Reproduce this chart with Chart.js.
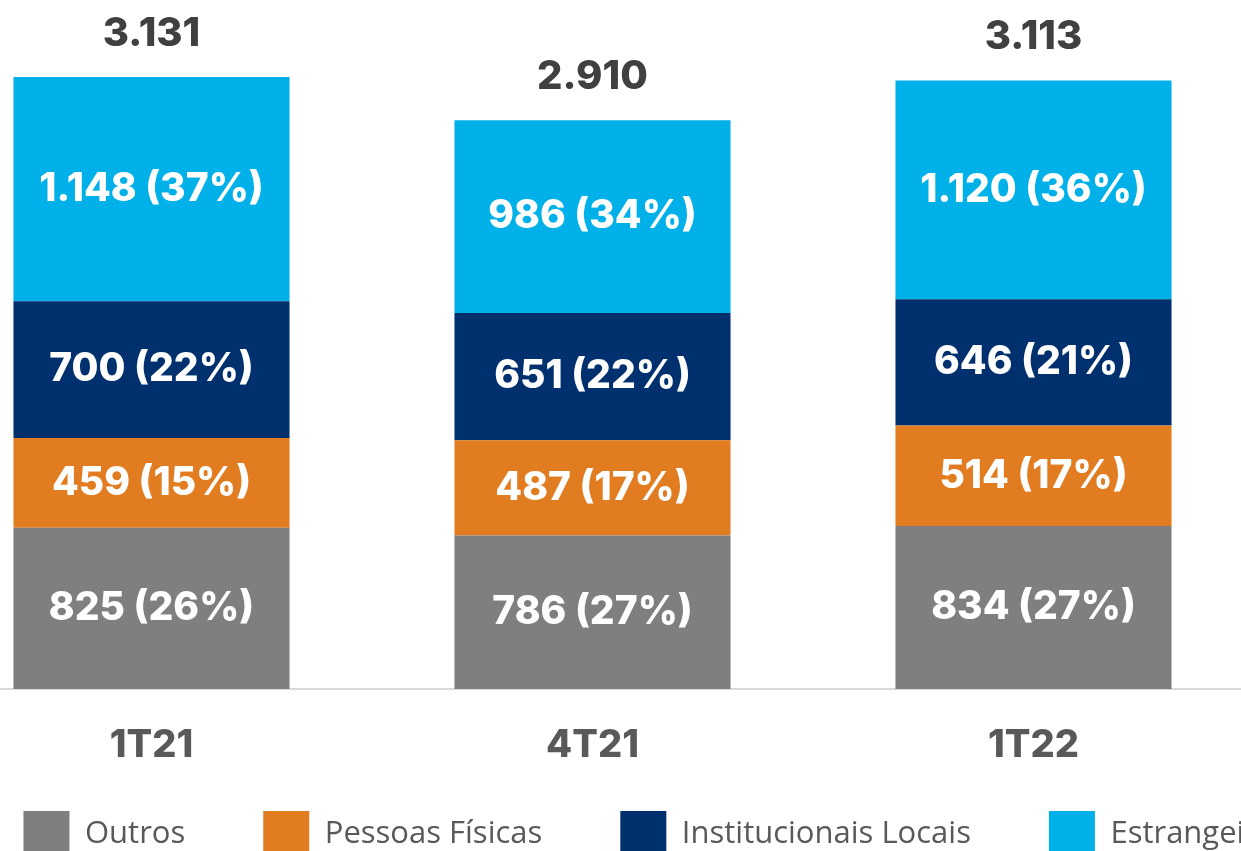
<!DOCTYPE html>
<html>
<head>
<meta charset="utf-8">
<script src="https://cdn.jsdelivr.net/npm/chart.js@4"></script>
<style>
  html, body { margin: 0; padding: 0; overflow: hidden; background: #fff; width: 1241px; height: 851px; }
  #wrap { position: absolute; left: -69px; top: 0; }
</style>
</head>
<body>
<div id="wrap"><canvas id="chart" width="1452" height="867"></canvas></div>
<script>
const quarters = ['1T21', '4T21', '1T22'];
const outros = [825, 786, 834];
const pessoasFisicas = [459, 487, 514];
const institucionais = [700, 651, 646];
const estrangeiros = [1148, 986, 1120];
const totals = [3131, 2910, 3113];
const seriesNames = ['Outros', 'Pessoas Físicas', 'Institucionais Locais', 'Estrangeiros'];
const seriesColors = ['#7f7f7f', '#e27c20', '#00306e', '#00b0e8'];

// 1148 -> "1.148"
function fmt(v) {
    return String(v).replace(/\B(?=(\d{3})+(?!\d))/g, '.');
}

const barLabels = {
    id: 'barLabels',
    afterDatasetsDraw(chart) {
        const ctx = chart.ctx;
        ctx.save();
        ctx.textAlign = 'center';
        ctx.textBaseline = 'middle';
        ctx.fillStyle = '#ffffff';
        ctx.font = '800 39px Inter';
        chart.data.datasets.forEach((ds, i) => {
            chart.getDatasetMeta(i).data.forEach((bar, j) => {
                const v = ds.data[j];
                const pct = Math.round(v / totals[j] * 100);
                ctx.fillText(fmt(v) + ' (' + pct + '%)', bar.x, (bar.y + bar.base) / 2);
            });
        });
        const topMeta = chart.getDatasetMeta(chart.data.datasets.length - 1);
        ctx.fillStyle = '#404040';
        ctx.font = '800 40px Inter';
        topMeta.data.forEach((bar, j) => {
            ctx.fillText(fmt(totals[j]), bar.x, bar.y - 43);
        });
        ctx.restore();
    }
};

function draw() {
    const ctx = document.getElementById('chart').getContext('2d');
    new Chart(ctx, {
        type: 'bar',
        data: {
            labels: quarters,
            datasets: [outros, pessoasFisicas, institucionais, estrangeiros].map((d, i) => ({
                label: seriesNames[i],
                data: d,
                backgroundColor: seriesColors[i],
                borderWidth: 0,
                barPercentage: 1,
                categoryPercentage: 0.626
            }))
        },
        options: {
            responsive: false,
            animation: false,
            layout: { padding: { top: 5 } },
            scales: {
                x: {
                    stacked: true,
                    position: { y: 0 },
                    grid: { display: false, drawTicks: false },
                    border: { color: '#d9d9d9', width: 2 },
                    ticks: {
                        color: '#595959',
                        padding: 34,
                        font: { family: 'Inter', size: 38, weight: 800 }
                    },
                    afterFit(scale) { scale.height = 1; }
                },
                y: {
                    stacked: true,
                    position: 'right',
                    min: -225,
                    max: 3500,
                    grid: { display: false },
                    border: { display: false },
                    ticks: { display: false },
                    afterFit(scale) { scale.width = 129; }
                }
            },
            plugins: {
                legend: {
                    position: 'bottom',
                    align: 'center',
                    labels: {
                        boxWidth: 46,
                        boxHeight: 46,
                        padding: 78,
                        color: '#595959',
                        font: { family: 'Open Sans', size: 31 }
                    }
                },
                tooltip: { enabled: false }
            }
        },
        plugins: [barLabels]
    });
}

document.fonts.ready.then(draw);
</script>
</body>
</html>
